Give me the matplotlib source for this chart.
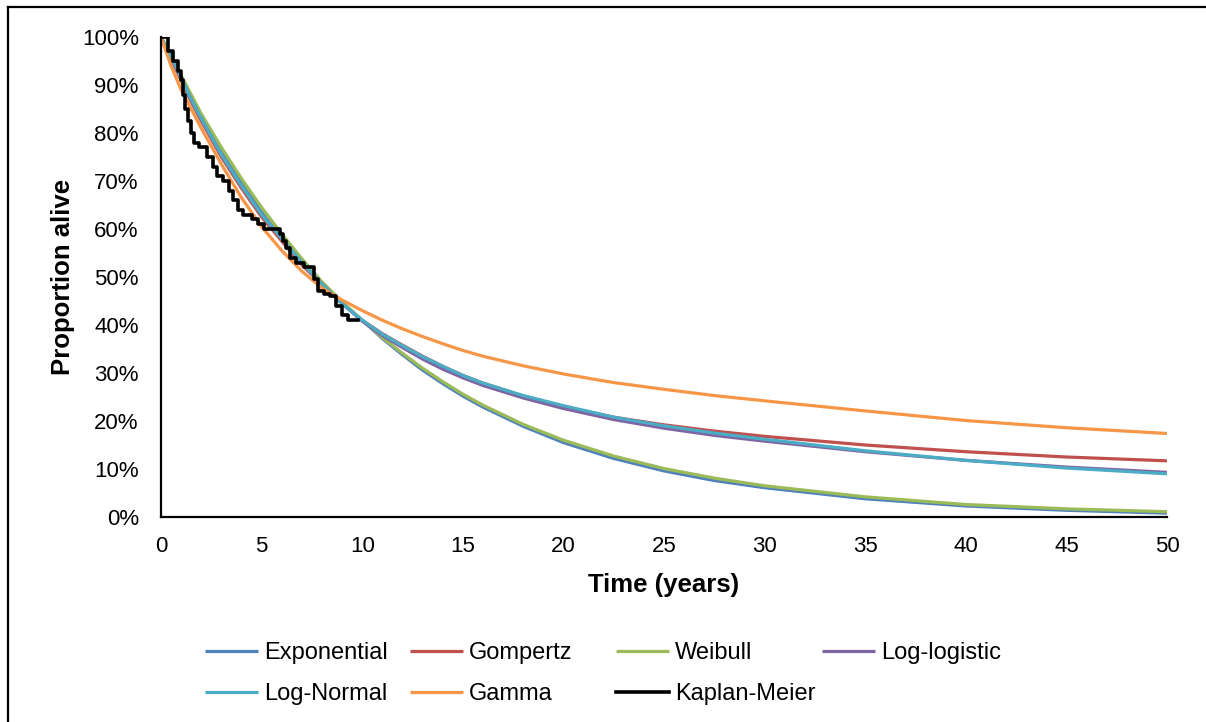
import matplotlib
matplotlib.use("Agg")
import matplotlib.pyplot as plt
from matplotlib.lines import Line2D
from matplotlib.ticker import PercentFormatter

plt.rcParams["font.family"] = ["Liberation Sans", "DejaVu Sans"]

# fitted curves (proportion alive, %)
fit_time = [0, 0.5, 1, 1.5, 2, 3, 4, 5, 6, 7, 8, 9, 10, 11, 12, 13, 14, 15, 16,
            18, 20, 22.5, 25, 27.5, 30, 35, 40, 45, 50]
exponential = [100, 95.5, 91.2, 87, 83, 76, 69.5, 63.5, 58, 53, 48.5, 44.5, 41,
               37.2, 33.8, 30.6, 27.8, 25.2, 22.9, 18.9, 15.5, 12.2, 9.6, 7.6,
               6.1, 3.8, 2.3, 1.4, 0.8]
gompertz = [100, 95.5, 91, 86.5, 82.5, 75, 68.5, 62.5, 57.5, 52.5, 48.5, 44.5, 41,
            38.2, 35.8, 33.5, 31.4, 29.5, 27.9, 25.2, 23, 20.8, 19.2, 17.9,
            16.8, 15, 13.6, 12.5, 11.7]
weibull = [100, 96, 92, 88, 84, 77, 70.5, 64.5, 59, 53.8, 49, 44.8, 41,
           37.4, 34.1, 31, 28.2, 25.6, 23.3, 19.3, 16, 12.7, 10.1, 8.1,
           6.5, 4.2, 2.6, 1.7, 1.1]
log_logistic = [100, 96, 91.5, 87, 83, 75.5, 69, 63, 58, 53, 48.5, 44.5, 40.8,
                37.8, 35.3, 32.9, 30.8, 29, 27.4, 24.8, 22.6, 20.3, 18.5, 17,
                15.8, 13.6, 11.8, 10.4, 9.3]
log_normal = [100, 96, 91.5, 87, 83, 75.5, 69, 63, 58, 53, 48.5, 44.5, 41,
              38.1, 35.7, 33.4, 31.4, 29.5, 27.9, 25.3, 23.2, 20.8, 19, 17.5,
              16.2, 13.8, 11.8, 10.2, 9.0]
gamma = [100, 94, 89, 85, 81, 73.5, 66.5, 60.5, 55.5, 51.2, 47.7, 45.2, 43,
         41, 39.2, 37.6, 36.1, 34.7, 33.5, 31.5, 29.8, 28, 26.6, 25.3,
         24.2, 22.1, 20.1, 18.6, 17.4]

# Kaplan-Meier step estimate
km_time = [0, 0.35, 0.6, 0.85, 1.0, 1.1, 1.2, 1.35, 1.5, 1.65, 1.9, 2.3, 2.6, 2.8,
           3.1, 3.4, 3.6, 3.85, 4.1, 4.5, 4.8, 5.1, 5.9, 6.05, 6.2, 6.4, 6.7,
           7.1, 7.6, 7.8, 8.1, 8.4, 8.7, 9.0, 9.3, 9.8]
km_surv = [100, 97, 95, 93, 91, 88, 85, 82.5, 80, 78, 77, 75, 73, 71,
           70, 68, 66, 64, 63, 62, 61, 60, 59, 57.5, 56, 54, 53,
           52, 49.5, 47, 46.5, 46, 44, 42, 41, 41]

series = [
    ("Exponential", exponential, "#4F81BD"),
    ("Gompertz", gompertz, "#C0504D"),
    ("Weibull", weibull, "#9BBB59"),
    ("Log-logistic", log_logistic, "#8064A2"),
    ("Log-Normal", log_normal, "#4BACC6"),
    ("Gamma", gamma, "#F79646"),
]

W, H = 1206, 722
fig = plt.figure(figsize=(W / 100, H / 100), dpi=100)
ax = fig.add_axes([161 / W, 1 - 517 / H, (1167 - 161) / W, (517 - 37) / H])

handles = {}
for name, values, color in series:
    (line,) = ax.plot(fit_time, values, color=color, linewidth=2.3, label=name,
                      solid_capstyle="butt", solid_joinstyle="round")
    handles[name] = line
(km_line,) = ax.step(km_time, km_surv, where="post", color="black", linewidth=2.6,
                     label="Kaplan-Meier")
handles["Kaplan-Meier"] = km_line

ax.set_xlim(0, 50)
ax.set_ylim(0, 100)
ax.set_xticks(range(0, 51, 5))
ax.set_yticks(range(0, 101, 10))
ax.yaxis.set_major_formatter(PercentFormatter(decimals=0))
ax.tick_params(axis="x", length=0, pad=14, labelsize=16)
ax.tick_params(axis="y", length=0, pad=16, labelsize=16)
for side in ("top", "right"):
    ax.spines[side].set_visible(False)
for side in ("left", "bottom"):
    ax.spines[side].set_linewidth(1.6)
ax.set_xlabel("Time (years)", fontsize=18.5, fontweight="bold", labelpad=11)
ax.set_ylabel("Proportion alive", fontsize=18.5, fontweight="bold", labelpad=5)

# legend: 4 equal-width columns, two rows
columns = [
    (205, ["Exponential", "Log-Normal"]),
    (410, ["Gompertz", "Gamma"]),
    (616, ["Weibull", "Kaplan-Meier"]),
    (822, ["Log-logistic"]),
]
for x0, names in columns:
    y_mid = 673.5 if len(names) == 2 else 653
    fig.legend(
        [handles[n] for n in names], names,
        loc="center left", bbox_to_anchor=(x0 / W, 1 - y_mid / H),
        frameon=False, fontsize=17, handlelength=2.25, handletextpad=0.25,
        labelspacing=0.8, borderpad=0, borderaxespad=0,
    )

# outer chart border (top and left visible in the reference)
fig.add_artist(Line2D([8 / W, 1], [1 - 7 / H, 1 - 7 / H], color="black", linewidth=1.6))
fig.add_artist(Line2D([8 / W, 8 / W], [0, 1 - 7 / H], color="black", linewidth=1.6))

fig.savefig("out.png", dpi=100)
